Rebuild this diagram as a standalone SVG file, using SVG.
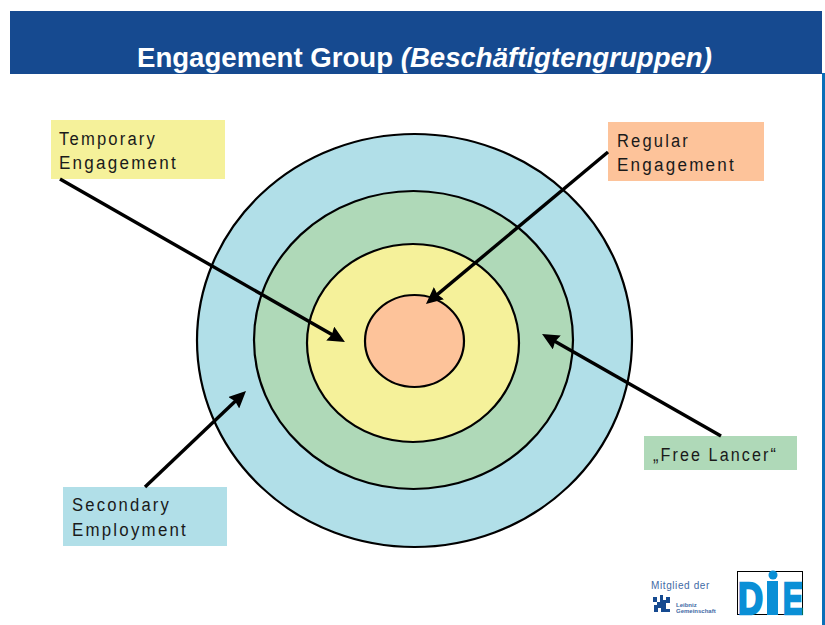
<svg xmlns="http://www.w3.org/2000/svg" width="825" height="625" viewBox="0 0 825 625">
<style>
.ring{stroke:#000;stroke-width:2.2}
.lbl{font:18px "Liberation Sans",Arial,sans-serif;letter-spacing:2.35px;fill:#1a1a1a}
.arr{fill:none;stroke:#000;stroke-width:3.4;marker-end:url(#ah)}
.title{font:bold 27.600px "Liberation Sans",Arial,sans-serif;fill:#fff}
.die{font:bold 44px "Liberation Sans",Arial,sans-serif;fill:#0a8fd6;stroke:#0a8fd6;stroke-width:2.500}
.small{font-family:"Liberation Sans",Arial,sans-serif;fill:#3f6aa5}
</style>
<defs>
<marker id="ah" markerUnits="userSpaceOnUse" markerWidth="18" markerHeight="16" refX="9" refY="8" orient="auto" viewBox="0 0 18 16">
<path d="M0 0L17 8L0 16L2 8Z" fill="#000"/>
</marker>
</defs>
<rect width="825" height="625" fill="#fff"/>
<g id="header">
<rect x="822" y="73" width="3" height="552" fill="#0a6fb8"/>
<rect x="10" y="11" width="812" height="63" fill="#164a90"/>
<text class="title" x="137" y="67">Engagement Group <tspan font-style="italic">(Beschäftigtengruppen)</tspan></text>
</g>
<g id="rings">
<ellipse id="ring-secondary" class="ring" cx="414.500" cy="340.500" rx="217.500" ry="206.500" fill="#b1dfe8"/>
<ellipse id="ring-freelancer" class="ring" cx="413.500" cy="340" rx="159.500" ry="149" fill="#afd9b8"/>
<ellipse id="ring-temporary" class="ring" cx="413" cy="343" rx="106" ry="99" fill="#f5f19a"/>
<ellipse id="ring-regular" class="ring" cx="414.500" cy="341" rx="49.500" ry="46" fill="#fdc39a"/>
</g>
<g id="node-temporary">
<rect x="51" y="120" width="174" height="59" fill="#f5f19a"/>
<text class="lbl" x="59" y="145" textLength="98" lengthAdjust="spacingAndGlyphs">Temporary</text>
<text class="lbl" x="59" y="169" textLength="119" lengthAdjust="spacingAndGlyphs">Engagement</text>
</g>
<g id="node-regular">
<rect x="608" y="122" width="156" height="59" fill="#fdc39a"/>
<text class="lbl" x="617" y="147" textLength="73" lengthAdjust="spacingAndGlyphs">Regular</text>
<text class="lbl" x="617" y="171" textLength="119" lengthAdjust="spacingAndGlyphs">Engagement</text>
</g>
<g id="node-secondary">
<rect x="63" y="487" width="164" height="59" fill="#b1dfe8"/>
<text class="lbl" x="72" y="511" textLength="99" lengthAdjust="spacingAndGlyphs">Secondary</text>
<text class="lbl" x="72" y="536" textLength="116" lengthAdjust="spacingAndGlyphs">Employment</text>
</g>
<g id="node-freelancer">
<rect x="644" y="436" width="153" height="34" fill="#afd9b8"/>
<text class="lbl" x="653" y="461" textLength="125" lengthAdjust="spacingAndGlyphs">„Free Lancer“</text>
</g>
<g id="connectors">
<path class="arr" d="M60 179L338 338"/>
<path class="arr" d="M608 152L432.100 298.900"/>
<path class="arr" d="M145 487L240.200 396.500"/>
<path class="arr" d="M721 436L549 338"/>
</g>
<g id="logos">
<text class="small" x="651" y="589" font-size="10" letter-spacing="0.600">Mitglied der</text>
<path d="M653 597h4v5h3v-7h3v5h3v-3h4v6h-4v6h4v3h-9v-4h-3v4h-4v-7h3v-3h-4z" fill="#164a90"/>
<text class="small" x="676" y="607" font-size="6" font-weight="bold">Leibniz</text>
<text class="small" x="676" y="613" font-size="6" font-weight="bold">Gemeinschaft</text>
<rect x="737.500" y="571.500" width="65" height="43" fill="#fff" stroke="#000" stroke-width="1"/>
<text class="die" x="738" y="614" textLength="25" lengthAdjust="spacingAndGlyphs">D</text>
<rect x="767" y="581" width="11" height="34" fill="#0a8fd6"/>
<circle cx="773" cy="575" r="4.500" fill="#0a8fd6"/>
<text class="die" x="783" y="614" textLength="20" lengthAdjust="spacingAndGlyphs">E</text>
</g>
</svg>
